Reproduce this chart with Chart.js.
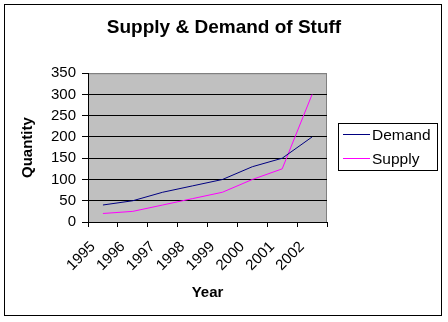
<!DOCTYPE html>
<html lang="en">
  <head>
    <meta charset="UTF-8" />
    <title>Supply & Demand of Stuff</title>
    <script src="https://cdn.jsdelivr.net/npm/chart.js@4.4.1/dist/chart.umd.min.js"></script>
    <style>
      html, body { margin: 0; padding: 0; background: #fff; }
      #wrap { width: 448px; height: 322px; }
    </style>
  </head>
  <body>
    <div id="wrap"><canvas id="chart" width="448" height="322"></canvas></div>

    <script>
      const years = ["1995", "1996", "1997", "1998", "1999", "2000", "2001", "2002"];
      const demand = [40, 50, 70, 85, 100, 130, 150, 200];
      const supply = [20, 25, 40, 55, 70, 100, 125, 300];
      const yMax = 350;
      const yStep = 50;

      const FONT = "Arial, 'Liberation Sans', sans-serif";

      // grey plot area, outer frame and the boxed legend
      const excelLook = {
        id: "excelLook",
        beforeDraw(chart) {
          const { ctx, chartArea: a } = chart;
          ctx.save();
          ctx.fillStyle = "#fff";
          ctx.fillRect(0, 0, chart.width, chart.height);
          ctx.fillStyle = "#c0c0c0";
          ctx.fillRect(a.left, a.top, a.right - a.left, a.bottom - a.top);
          ctx.strokeStyle = "#808080";
          ctx.lineWidth = 1;
          ctx.strokeRect(a.left + 0.5, a.top + 0.5, a.right - a.left - 1, a.bottom - a.top);
          ctx.strokeStyle = "#000";
          ctx.strokeRect(4.5, 4.5, 437, 311);
          ctx.restore();
        },
        afterDraw(chart) {
          const { ctx } = chart;
          ctx.save();
          ctx.fillStyle = "#fff";
          ctx.strokeStyle = "#000";
          ctx.lineWidth = 1;
          ctx.fillRect(338.5, 123.5, 99, 47);
          ctx.strokeRect(338.5, 123.5, 99, 47);
          ctx.font = "15.5px " + FONT;
          ctx.textBaseline = "middle";
          chart.data.datasets.forEach((ds, i) => {
            const y = 134.5 + i * 24;
            ctx.strokeStyle = ds.borderColor;
            ctx.beginPath();
            ctx.moveTo(343, y);
            ctx.lineTo(370, y);
            ctx.stroke();
            ctx.fillStyle = "#000";
            ctx.fillText(ds.label, 372, y + 1);
          });
          ctx.restore();
        },
      };

      new Chart(document.getElementById("chart"), {
        type: "line",
        data: {
          labels: years,
          datasets: [
            { label: "Demand", data: demand, borderColor: "#000080" },
            { label: "Supply", data: supply, borderColor: "#ff00ff" },
          ],
        },
        options: {
          responsive: false,
          animation: false,
          devicePixelRatio: 1,
          layout: { padding: { top: 2, left: 4, right: 4, bottom: 0 } },
          elements: {
            line: { borderWidth: 1, tension: 0, fill: false },
            point: { radius: 0, hoverRadius: 0 },
          },
          plugins: {
            legend: { display: false },
            tooltip: { enabled: false },
            title: {
              display: true,
              text: "Supply & Demand of Stuff",
              color: "#000",
              font: { family: FONT, size: 19, weight: "bold", lineHeight: 1.2 },
              padding: { top: 14.5, bottom: 33.9 },
            },
          },
          scales: {
            x: {
              offset: true,
              border: { color: "#000", width: 1 },
              grid: { offset: true, drawOnChartArea: false, drawTicks: true, tickLength: 5, color: "#000" },
              ticks: {
                color: "#000",
                font: { family: FONT, size: 15 },
                maxRotation: 45,
                minRotation: 45,
                autoSkip: false,
                padding: 11,
                labelOffset: -10,
              },
              title: {
                display: true,
                text: "Year",
                color: "#000",
                font: { family: FONT, size: 15, weight: "bold" },
                padding: { top: 0, bottom: 20 },
              },
              afterFit(scale) { scale.height = 100; },
            },
            y: {
              min: 0,
              max: yMax,
              border: { color: "#000", width: 1 },
              grid: {
                color: (c) => (c.tick && c.tick.value === yMax ? "#808080" : "#000"),
                tickColor: "#000",
                tickLength: 6,
              },
              ticks: {
                stepSize: yStep,
                color: "#000",
                font: { family: FONT, size: 15 },
                padding: 6,
              },
              title: {
                display: true,
                text: "Quantity",
                color: "#000",
                font: { family: FONT, size: 15, weight: "bold" },
                padding: { top: 15, bottom: 0 },
              },
              afterFit(scale) { scale.width = 84; },
            },
            // empty strip on the right that holds the legend box
            side: {
              type: "linear",
              position: "right",
              display: true,
              border: { display: false },
              grid: { display: false },
              ticks: { display: false },
              afterFit(scale) { scale.width = 117; },
            },
          },
        },
        plugins: [excelLook],
      });
    </script>
  </body>
</html>
